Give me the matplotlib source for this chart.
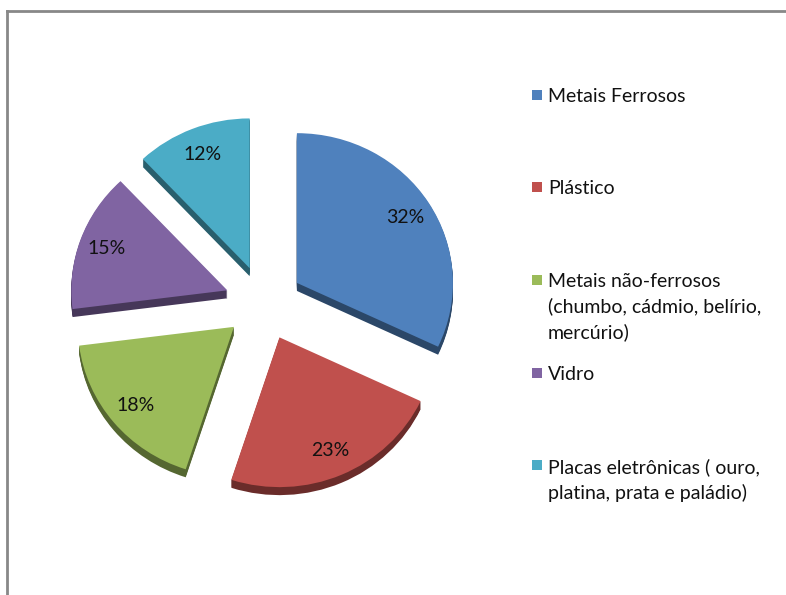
import numpy as np
import matplotlib.pyplot as plt
from matplotlib.patches import Wedge, Rectangle
from matplotlib.lines import Line2D
from matplotlib.colors import to_rgb

plt.rcParams['font.family'] = ['Lato', 'DejaVu Sans']

# ============================================
# Dados
# ============================================
labels = [
    "Metais Ferrosos",
    "Plástico",
    "Metais não-ferrosos\n(chumbo, cádmio, belírio,\nmercúrio)",
    "Vidro",
    "Placas eletrônicas ( ouro,\nplatina, prata e paládio)",
]
values = [32, 23, 18, 15, 12]
colors = ["#4F81BD", "#C0504D", "#9BBB59", "#8064A2", "#4BACC6"]

# ============================================
# Figura (unidades em pixel)
# ============================================
W, H = 786, 595
tilt = 0.96
fig = plt.figure(figsize=(W / 100, H / 100), dpi=100)
ax = fig.add_axes([0, 0, 1, 1])

cx, cy = 264, (H - 303) / tilt
radius = 156
depth = 8 / tilt

wedges, texts, autotexts = ax.pie(
    values,
    explode=[39] * len(values),
    colors=colors,
    startangle=90,
    counterclock=False,
    radius=radius,
    center=(cx, cy),
    autopct="%1.0f%%",
    pctdistance=0.82,
    textprops=dict(fontsize=14, color="#111111"),
    frame=True,
)

ax.set_xlim(0, W)
ax.set_ylim(0, H / tilt)
ax.set_aspect("auto")
ax.axis("off")

# lateral 3D: copias mais escuras deslocadas para baixo
for w, c in zip(wedges, colors):
    w.set_zorder(3)
    dark = tuple(v * 0.55 for v in to_rgb(c))
    for t in np.linspace(1, depth, 8):
        side = Wedge(
            (w.center[0], w.center[1] - t),
            w.r, w.theta1, w.theta2,
            facecolor=dark, edgecolor="none", zorder=2,
        )
        ax.add_patch(side)

for t in autotexts:
    t.set_zorder(4)

# ============================================
# Legenda
# ============================================
leg_y = [95, 187, 280, 373, 465]
for lab, c, y in zip(labels, colors, leg_y):
    fig.patches.append(Rectangle(
        (532 / W, 1 - (y + 5) / H), 10 / W, 10 / H,
        transform=fig.transFigure, facecolor=c, edgecolor="none",
    ))
    fig.text(548 / W, 1 - (y - 7) / H, lab, fontsize=14,
             color="#111111", va="top", ha="left", linespacing=1.5)

# borda (so topo e esquerda ficam dentro da imagem)
bx, by = 7 / W, 1 - 11 / H
fig.add_artist(Line2D([bx, 1.0], [by, by], transform=fig.transFigure,
                      color="#888888", linewidth=2))
fig.add_artist(Line2D([bx, bx], [0.0, by], transform=fig.transFigure,
                      color="#888888", linewidth=2))

fig.savefig("out.png", dpi=100)
